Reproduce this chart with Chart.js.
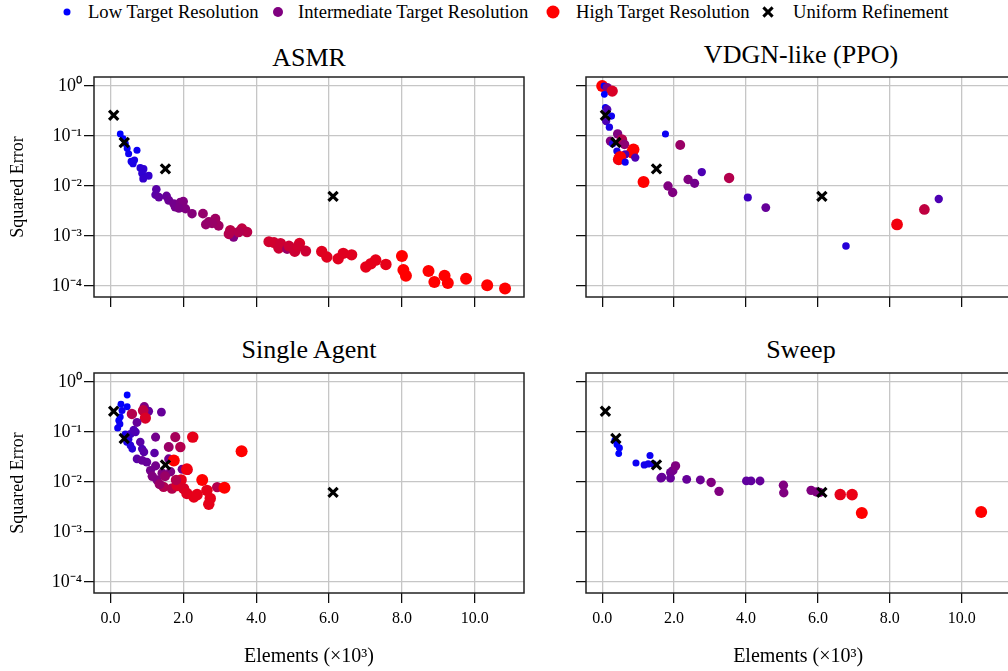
<!DOCTYPE html>
<html><head><meta charset="utf-8">
<script src="https://cdn.jsdelivr.net/npm/chart.js@4/dist/chart.umd.min.js"></script>
<style>
html,body{margin:0;padding:0;background:#fff;}
#wrap{position:relative;width:1008px;height:671px;overflow:hidden;font-family:"Liberation Serif",serif;color:#000;}
canvas{position:absolute;}
.title{position:absolute;font-size:26px;transform:translate(-50%,-50%);white-space:nowrap;}
.leg{position:absolute;font-size:18.6px;top:12px;transform:translateY(-50%);white-space:nowrap;}
.dot{position:absolute;border-radius:50%;transform:translate(-50%,-50%);top:12px;}
.xm{position:absolute;left:768px;top:12px;width:11px;height:11px;transform:translate(-50%,-50%);}
.xm:before,.xm:after{content:"";position:absolute;left:4px;top:-1px;width:3px;height:13px;background:#000;}
.xm:before{transform:rotate(45deg);} .xm:after{transform:rotate(-45deg);}
</style></head><body>
<div id="wrap">
  <div class="dot" style="left:67px;width:7px;height:7px;background:rgb(0,0,255)"></div>
  <div class="leg" style="left:88px">Low Target Resolution</div>
  <div class="dot" style="left:278px;width:10px;height:10px;background:rgb(128,0,128)"></div>
  <div class="leg" style="left:298px">Intermediate Target Resolution</div>
  <div class="dot" style="left:553px;width:13px;height:13px;background:rgb(255,0,0)"></div>
  <div class="leg" style="left:576px">High Target Resolution</div>
  <div class="xm"></div>
  <div class="leg" style="left:793px">Uniform Refinement</div>

  <div class="title" style="left:309px;top:58px">ASMR</div>
  <div class="title" style="left:801px;top:55px">VDGN-like (PPO)</div>
  <div class="title" style="left:309px;top:350px">Single Agent</div>
  <div class="title" style="left:801px;top:350px">Sweep</div>

  <canvas id="c1" width="540" height="330" style="left:0;top:0"></canvas>
  <canvas id="c2" width="480" height="330" style="left:540px;top:0"></canvas>
  <canvas id="c3" width="540" height="341" style="left:0;top:330px"></canvas>
  <canvas id="c4" width="480" height="341" style="left:540px;top:330px"></canvas>
</div>
<script>
// ---------- data ----------
const xTicks = [0, 2, 4, 6, 8, 10];
const yTicks = [1e-4, 1e-3, 1e-2, 1e-1, 1];
const yTickLabels = ['10⁻⁴', '10⁻³', '10⁻²', '10⁻¹', '10⁰'];

const uniformElements = [0.09, 0.38, 1.51, 6.11];
const uniformError = [0.26, 0.074, 0.022, 0.0062];

// target resolution: 0 = low (blue), 0.5 = intermediate (purple), 1 = high (red)
const asmrElements = [0.27,0.35,0.41,0.46,0.50,0.73,0.57,0.66,0.62,0.82,0.91,0.87,1.05,0.90,
  1.26,1.24,1.33,1.54,1.60,1.74,1.78,1.92,2.00,2.06,2.24,1.88,2.54,2.70,2.88,2.97,2.79,2.62,3.29,3.38,3.61,3.75,3.52,3.25,
  4.35,4.49,4.67,4.62,4.85,4.90,5.06,5.19,5.15,5.36,5.80,5.94,6.25,6.39,6.62,7.01,7.15,7.28,7.56,8.00,8.04,8.11,8.73,8.89,9.17,9.26,9.76,10.34,10.83];
const asmrError = [0.11,0.089,0.071,0.056,0.044,0.052,0.031,0.033,0.028,0.023,0.022,0.018,0.016,0.014,
  0.0086,0.0067,0.006,0.0063,0.0052,0.0044,0.0038,0.0047,0.0049,0.0035,0.0028,0.0036,0.0028,0.0019,0.0022,0.0016,0.0018,0.0017,0.0013,0.00095,0.0014,0.0012,0.0012,0.0011,
  7.7e-4,7.4e-4,7.1e-4,5.7e-4,5.5e-4,6.3e-4,4.9e-4,7.1e-4,6.2e-4,5.0e-4,4.9e-4,3.8e-4,3.5e-4,4.5e-4,4.2e-4,2.4e-4,2.8e-4,3.3e-4,2.7e-4,4.0e-4,2.1e-4,1.6e-4,2.0e-4,1.2e-4,1.6e-4,1.15e-4,1.4e-4,1.03e-4,8.9e-5];
const asmrResolution = [0,0,0.02,0.03,0.05,0.05,0.08,0.1,0.1,0.15,0.18,0.18,0.2,0.2,
  0.35,0.35,0.38,0.4,0.42,0.45,0.45,0.48,0.5,0.5,0.52,0.48,0.58,0.6,0.62,0.62,0.6,0.58,0.72,0.5,0.75,0.72,0.7,0.7,
  0.82,0.82,0.8,0.8,0.6,0.8,0.8,0.85,0.82,0.8,0.88,0.88,0.88,0.88,0.88,0.9,0.9,0.9,0.9,1,1,1,1,1,1,1,1,1,1];

const vdgnElements = [0.0,0.05,0.14,0.28,0.06,0.09,0.14,0.26,0.11,0.2,1.76,2.17,0.43,0.55,0.23,0.29,0.62,0.87,0.83,0.41,0.64,0.46,0.92,0.46,0.5,0.64,
  1.15,1.83,1.96,2.39,2.57,2.77,3.53,4.05,4.55,6.78,8.2,8.96,9.36];
const vdgnError = [1.0,1.0,0.93,0.79,0.68,0.37,0.34,0.25,0.2,0.15,0.11,0.066,0.11,0.085,0.079,0.07,0.068,0.054,0.047,0.05,0.043,0.037,0.037,0.034,0.038,0.030,
  0.012,0.01,0.0074,0.0135,0.0113,0.019,0.0145,0.0059,0.0037,6.3e-4,0.0017,0.0034,0.0055];
const vdgnResolution = [1,0,0.5,0.85,0,0.05,0.3,0.05,0.3,0.1,0.05,0.6,0.5,0.7,0.5,0.1,0.55,1,1,0.1,0.3,0.1,0.3,0.95,1,0.05,
  1,0.5,0.5,0.5,0.45,0.3,0.7,0.25,0.4,0.15,0.95,0.75,0.3];

const singleElements = [0.46,0.29,0.46,0.32,0.27,0.23,0.26,0.2,0.41,0.5,0.55,0.45,0.6,0.55,0.64,0.69,0.82,0.87,0.92,
  0.93,1.05,0.9,0.96,0.59,0.73,1.40,
  1.24,1.78,2.26,1.6,1.92,3.6,1.21,0.73,0.87,1.0,1.6,1.74,1.24,1.1,1.15,1.28,1.42,1.65,1.97,2.13,2.1,2.52,1.94,
  1.46,1.69,1.83,2.01,2.1,2.29,2.38,2.65,2.93,3.13,2.74,2.7,1.5,1.8,1.35];
const singleError = [0.55,0.36,0.32,0.27,0.2,0.17,0.145,0.12,0.091,0.072,0.054,0.063,0.046,0.091,0.11,0.1,0.063,0.046,0.04,
  0.32,0.26,0.27,0.19,0.23,0.155,0.25,
  0.079,0.079,0.079,0.05,0.05,0.041,0.038,0.029,0.027,0.025,0.029,0.027,0.021,0.017,0.013,0.011,0.015,0.016,0.018,0.017,0.018,0.011,0.011,
  0.008,0.0074,0.0085,0.0074,0.0059,0.005,0.0056,0.0068,0.0079,0.0077,0.0047,0.0036,0.013,0.011,0.009];
const singleResolution = [0,0.02,0.02,0.05,0.02,0.02,0.05,0.05,0.1,0.15,0.15,0.1,0.15,0.25,0.3,0.3,0.35,0.3,0.35,
  0.5,0.4,0.75,0.85,0.7,0.4,0.4,
  0.45,0.65,0.9,0.6,0.7,1,0.35,0.35,0.4,0.4,0.45,1,0.45,0.45,0.5,0.5,0.5,0.5,0.45,0.4,0.95,1,0.9,
  0.7,0.7,0.85,0.85,0.88,0.9,0.9,0.9,0.7,1,0.9,0.9,0.6,0.7,0.6];

const sweepElements = [0.35,0.41,0.48,0.46,0.94,1.17,1.28,1.33,1.42,1.63,1.66,1.9,1.9,1.97,2.04,2.35,2.73,3.03,3.25,4.01,4.14,4.39,5.04,5.05,5.81,5.96,6.05,6.62,6.95,7.22,10.54];
const sweepError = [0.068,0.056,0.048,0.037,0.024,0.022,0.023,0.034,0.023,0.012,0.0125,0.012,0.0155,0.017,0.021,0.0113,0.011,0.0098,0.0065,0.0105,0.0105,0.0105,0.0086,0.0061,0.0068,0.0063,0.0062,0.0056,0.0056,0.0024,0.0025];
const sweepResolution = [0,0,0.02,0,0.05,0.08,0.08,0.05,0.1,0.4,0.4,0.4,0.42,0.45,0.5,0.4,0.42,0.5,0.5,0.38,0.38,0.4,0.5,0.5,0.5,0.5,0.5,0.9,0.92,1,1];

// ---------- drawing ----------
const FONT = 'Liberation Serif';
const framePlugin = {
  id: 'frame',
  afterDraw(chart) {
    const {ctx, chartArea: {left, top, right, bottom}} = chart;
    ctx.save();
    ctx.strokeStyle = '#222';
    ctx.lineWidth = 1.5;
    ctx.strokeRect(left, top, right - left, bottom - top);
    ctx.restore();
  }
};

function resColor(t) {
  return `rgb(${Math.round(255 * t)},0,${Math.round(255 * (1 - t))})`;
}

function makePanel(id, elements, errors, resolution, opt) {
  const pts = elements.map((x, i) => ({x, y: errors[i]}));
  const colors = resolution.map(resColor);
  const radii = resolution.map(t => 3.4 + 2.6 * t);
  const grid = {color: '#c6c6c6', lineWidth: 1.3, drawTicks: true, tickLength: 10, tickColor: '#000', tickWidth: 1.2};
  new Chart(document.getElementById(id), {
    type: 'scatter',
    data: {
      datasets: [
        {
          label: 'Uniform Refinement',
          data: uniformElements.map((x, i) => ({x, y: uniformError[i]})),
          pointStyle: 'crossRot', pointRadius: 6.5, pointBorderWidth: 3.2,
          borderColor: '#000', backgroundColor: '#000', order: 0
        },
        {
          label: 'Adaptive',
          data: pts,
          pointBackgroundColor: colors, pointBorderColor: colors,
          pointRadius: radii, pointBorderWidth: 0, order: 1
        }
      ]
    },
    options: {
      responsive: false, animation: false, events: [],
      layout: {padding: opt.padding},
      plugins: {legend: {display: false}, tooltip: {enabled: false}},
      scales: {
        x: {
          type: 'linear', min: -0.45, max: 11.35,
          afterBuildTicks: a => { a.ticks = xTicks.map(v => ({value: v})); },
          afterFit: s => { s.height = opt.xH; },
          grid: grid, border: {display: false},
          ticks: {display: opt.xLabels, callback: v => Number(v).toFixed(1), font: {family: FONT, size: 16}, color: '#000', padding: 6, maxRotation: 0, autoSkip: false},
          title: {display: opt.xLabels, text: 'Elements (×10³)', font: {family: FONT, size: 20}, color: '#000', padding: {top: 0, bottom: 2}}
        },
        y: {
          type: 'logarithmic', min: Math.pow(10, -4.22), max: Math.pow(10, 0.18),
          afterBuildTicks: a => { a.ticks = yTicks.map(v => ({value: v})); },
          afterFit: s => { s.width = opt.yW; },
          grid: grid, border: {display: false},
          ticks: {display: opt.yLabels, callback: v => yTickLabels[yTicks.indexOf(v)] ?? '', font: {family: FONT, size: 18}, color: '#000', padding: 2, autoSkip: false},
          title: {display: opt.yLabels, text: 'Squared Error', font: {family: FONT, size: 18}, color: '#000', padding: {top: 7, bottom: 0}}
        }
      }
    },
    plugins: [framePlugin]
  });
}

makePanel('c1', asmrElements, asmrError, asmrResolution,
  {padding: {left: 0, right: 16, top: 77, bottom: 21}, yW: 94, xH: 12, xLabels: false, yLabels: true});
makePanel('c2', vdgnElements, vdgnError, vdgnResolution,
  {padding: {left: 0, right: 4, top: 77, bottom: 21}, yW: 46, xH: 12, xLabels: false, yLabels: false});
makePanel('c3', singleElements, singleError, singleResolution,
  {padding: {left: 0, right: 16, top: 43, bottom: 0}, yW: 94, xH: 78, xLabels: true, yLabels: true});
makePanel('c4', sweepElements, sweepError, sweepResolution,
  {padding: {left: 0, right: 4, top: 43, bottom: 0}, yW: 46, xH: 78, xLabels: true, yLabels: false});
</script>
</body></html>
